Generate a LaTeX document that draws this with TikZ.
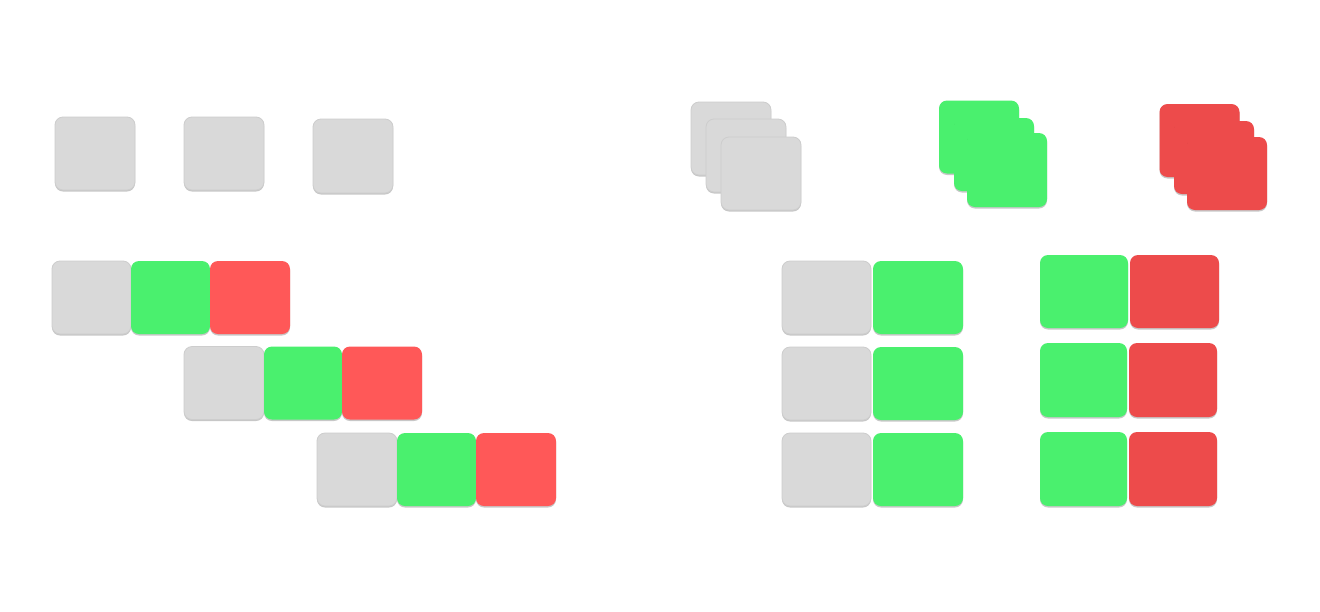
\documentclass[tikz,border=0pt]{standalone}
\usetikzlibrary{shadows}
\definecolor{cgray}{HTML}{D9D9D9}
\definecolor{cgrayedge}{HTML}{CDCDCD}
\definecolor{cgreen}{HTML}{4AF06E}
\definecolor{credA}{HTML}{FF5858}
\definecolor{credB}{HTML}{ED4B4B}
\tikzset{
  cell/.style={rounded corners=8pt, inner sep=0pt, minimum width=80pt, minimum height=73pt,
    drop shadow={shadow xshift=0pt, shadow yshift=-1.5pt, opacity=0.22, fill=black}},
  graycell/.style={cell, fill=cgray, draw=cgrayedge, line width=0.8pt},
  greencell/.style={cell, fill=cgreen},
  redcell/.style={cell, fill=credA},
  darkredcell/.style={cell, fill=credB},
  wide/.style={minimum width=89pt},
}
\begin{document}
\begin{tikzpicture}[x=1pt, y=-1pt]
\useasboundingbox[fill=white] (0,0) rectangle (1320,611);
% top-left singles
\node[graycell] (s1) at (95,153.5) {};
\node[graycell] (s2) at (224,153.5) {};
\node[graycell, minimum height=74pt] (s3) at (353,156) {};
% stacks
\node[graycell] (gs1) at (731,138.5) {};
\node[graycell] (gs2) at (746,155.5) {};
\node[graycell] (gs3) at (761,173.5) {};
\node[greencell] (ns1) at (979,137) {};
\node[greencell] (ns2) at (994,154.5) {};
\node[greencell, minimum height=74pt] (ns3) at (1007,170) {};
\node[darkredcell] (rs1) at (1199.5,140.5) {};
\node[darkredcell] (rs2) at (1214,157.5) {};
\node[darkredcell] (rs3) at (1227,173.5) {};
% diagonal rows
\node[graycell, minimum width=79pt] (a1) at (91.5,297.5) {};
\node[greencell, minimum width=79pt] (a2) at (170.5,297.5) {};
\node[redcell] (a3) at (250,297.5) {};
\node[graycell] (b1) at (224,383) {};
\node[greencell, minimum width=78pt] (b2) at (303,383) {};
\node[redcell] (b3) at (382,383) {};
\node[graycell] (c1) at (357,469.5) {};
\node[greencell, minimum width=79pt] (c2) at (436.5,469.5) {};
\node[redcell] (c3) at (516,469.5) {};
% gray-green grid
\node[graycell, wide] (m11) at (826.5,297.5) {};
\node[greencell, minimum width=90pt] (m12) at (918,297.5) {};
\node[graycell, wide] (m21) at (826.5,383.5) {};
\node[greencell, minimum width=90pt] (m22) at (918,383.5) {};
\node[graycell, wide] (m31) at (826.5,469.5) {};
\node[greencell, minimum width=90pt] (m32) at (918,469.5) {};
% green-red grid
\node[greencell, minimum width=88pt] (r11) at (1084,291.5) {};
\node[darkredcell, wide] (r12) at (1174.5,291.5) {};
\node[greencell, minimum width=87pt, minimum height=74pt] (r21) at (1083.5,380) {};
\node[darkredcell, minimum width=88pt, minimum height=74pt] (r22) at (1173,380) {};
\node[greencell, minimum width=87pt, minimum height=74pt] (r31) at (1083.5,469) {};
\node[darkredcell, minimum width=88pt, minimum height=74pt] (r32) at (1173,469) {};
\end{tikzpicture}
\end{document}
